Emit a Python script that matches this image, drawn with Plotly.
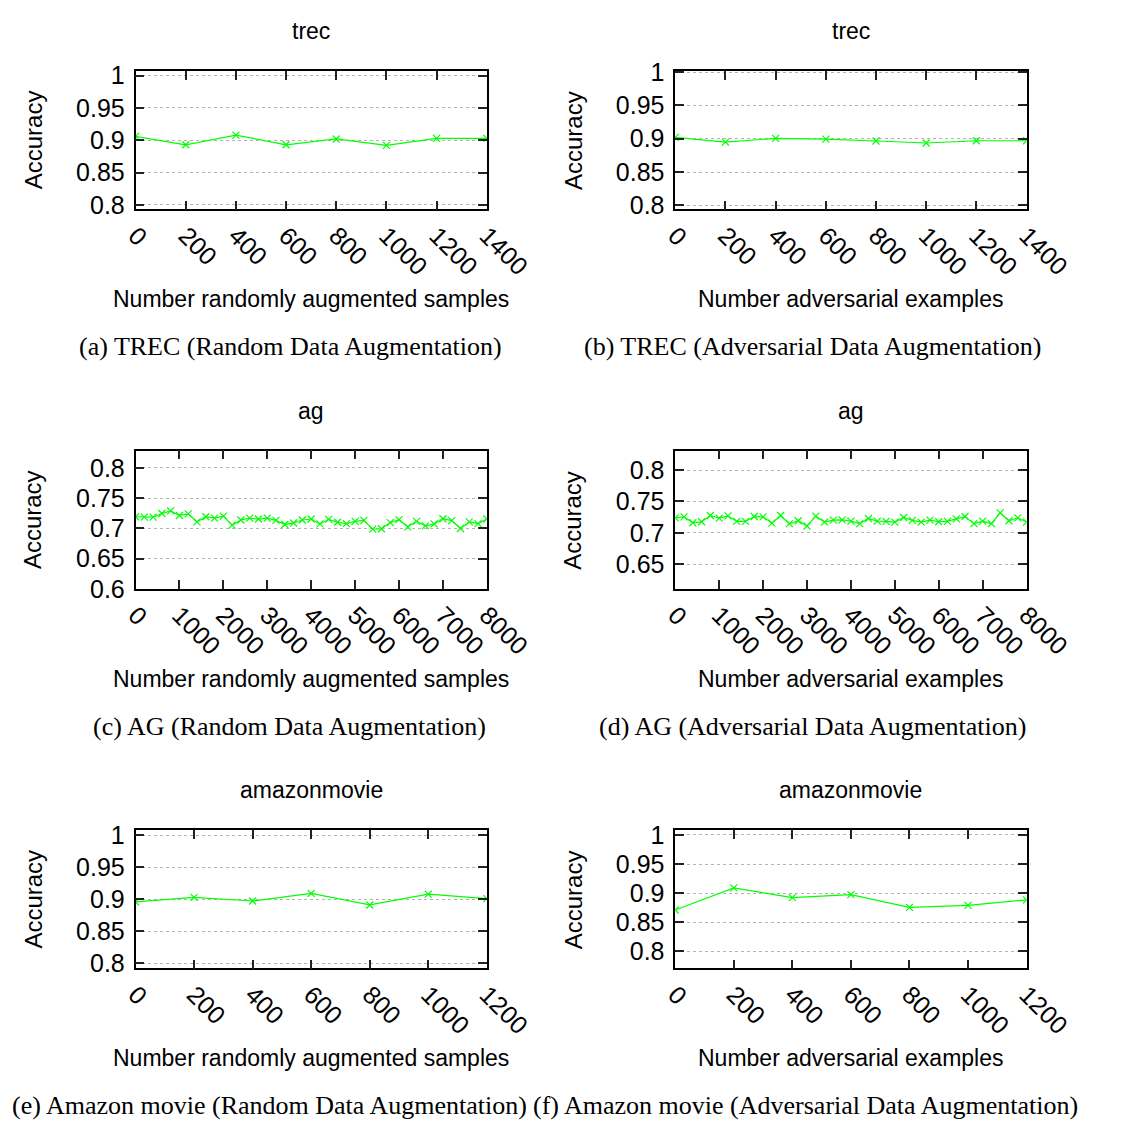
import plotly.graph_objects as go

# ---------------- data ----------------
trec_x = [0, 200, 400, 600, 800, 1000, 1200, 1400]
trec_random_acc = [0.906, 0.893, 0.908, 0.893, 0.902, 0.892, 0.903, 0.903]
trec_adv_acc = [0.902, 0.895, 0.9005, 0.8995, 0.8966, 0.8936, 0.897, 0.897]

ag_x = list(range(0, 8001, 200))
ag_random_acc = [0.7194, 0.7188, 0.7188, 0.7247, 0.7290, 0.7215, 0.7242, 0.7108, 0.7194, 0.7172,
                 0.7204, 0.7054, 0.7140, 0.7172, 0.7156, 0.7172, 0.7134, 0.7065, 0.7091, 0.7140,
                 0.7156, 0.7075, 0.7151, 0.7102, 0.7081, 0.7118, 0.7134, 0.6989, 0.6995, 0.7097,
                 0.7145, 0.7027, 0.7118, 0.7043, 0.7075, 0.7161, 0.7129, 0.7000, 0.7108, 0.7081,
                 0.7156]
ag_adv_acc = [0.7240, 0.7255, 0.7161, 0.7177, 0.7276, 0.7234, 0.7271, 0.7182, 0.7182, 0.7260,
              0.7255, 0.7156, 0.7276, 0.7146, 0.7193, 0.7109, 0.7266, 0.7172, 0.7203, 0.7208,
              0.7188, 0.7148, 0.7229, 0.7188, 0.7182, 0.7172, 0.7245, 0.7198, 0.7172, 0.7203,
              0.7177, 0.7182, 0.7224, 0.7260, 0.7146, 0.7188, 0.7146, 0.7318, 0.7193, 0.7240,
              0.7172]

amazon_x = [0, 200, 400, 600, 800, 1000, 1200]
amazon_random_acc = [0.8957, 0.9028, 0.8972, 0.909, 0.891, 0.908, 0.9008]
amazon_adv_acc = [0.8711, 0.9092, 0.8924, 0.8975, 0.8756, 0.879, 0.8885]

trec_xticks = [0, 200, 400, 600, 800, 1000, 1200, 1400]
ag_xticks = [0, 1000, 2000, 3000, 4000, 5000, 6000, 7000, 8000]
amazon_xticks = [0, 200, 400, 600, 800, 1000, 1200]
yticks_high = [0.8, 0.85, 0.9, 0.95, 1.0]
yticks_high_text = ["0.8", "0.85", "0.9", "0.95", "1"]
yticks_ag_random = [0.6, 0.65, 0.7, 0.75, 0.8]
yticks_ag_random_text = ["0.6", "0.65", "0.7", "0.75", "0.8"]
yticks_ag_adv = [0.65, 0.7, 0.75, 0.8]
yticks_ag_adv_text = ["0.65", "0.7", "0.75", "0.8"]

titles = ["trec", "trec", "ag", "ag", "amazonmovie", "amazonmovie"]
xlabels = ["Number randomly augmented samples", "Number adversarial examples"] * 3
captions = ["(a) TREC (Random Data Augmentation)", "(b) TREC (Adversarial Data Augmentation)",
            "(c) AG (Random Data Augmentation)", "(d) AG (Adversarial Data Augmentation)",
            "(e) Amazon movie (Random Data Augmentation)", "(f) Amazon movie (Adversarial Data Augmentation)"]

# ---------------- layout ----------------
# The page body has an 8px default margin; build the figure in window pixel
# coordinates and convert, so the figure fits exactly in the 1127x1137 window.
OFF = 8
W, H = 1127 - 2 * OFF, 1137 - 2 * OFF
SANS = "Liberation Sans, Arial, sans-serif"
SERIF = "Liberation Serif, Times New Roman, serif"


def fx(px):
    return (px - OFF) / W


def fy(py):
    return 1 - (py - OFF) / H


col_px = [(130, 501), (700, 1071)]
row_px = [(59, 201), (448.3, 590), (837.3, 978.7)]
cap_cx = [294, 845, 292.5, 845, 272, 838]

panels = [
    (trec_x, trec_random_acc, trec_xticks, [0, 1400], yticks_high, yticks_high_text, [0.793, 1.0076]),
    (trec_x, trec_adv_acc, trec_xticks, [0, 1400], yticks_high, yticks_high_text, [0.794, 1.002]),
    (ag_x, ag_random_acc, ag_xticks, [0, 8000], yticks_ag_random, yticks_ag_random_text, [0.6, 0.8285]),
    (ag_x, ag_adv_acc, ag_xticks, [0, 8000], yticks_ag_adv, yticks_ag_adv_text, [0.6105, 0.831]),
    (amazon_x, amazon_random_acc, amazon_xticks, [0, 1200], yticks_high, yticks_high_text, [0.792, 1.0076]),
    (amazon_x, amazon_adv_acc, amazon_xticks, [0, 1200], yticks_high, yticks_high_text, [0.771, 1.008]),
]

fig = go.Figure()
layout = dict(width=W, height=H, autosize=False, margin=dict(l=0, r=0, t=0, b=0, pad=0),
              paper_bgcolor="white", plot_bgcolor="white", showlegend=False)
annotations = []

line_color = "#00ff00"

for i, (xs, ys, xt, xr, yt, ytt, yr) in enumerate(panels):
    r, c = divmod(i, 2)
    n = i + 1
    x0, x1 = col_px[c]
    y0, y1 = row_px[r]
    xa = "xaxis" if n == 1 else f"xaxis{n}"
    ya = "yaxis" if n == 1 else f"yaxis{n}"
    xref = "x" if n == 1 else f"x{n}"
    yref = "y" if n == 1 else f"y{n}"
    fig.add_trace(go.Scatter(
        x=xs, y=ys, xaxis=xref, yaxis=yref, mode="lines+markers",
        line=dict(color=line_color, width=1.2),
        marker=dict(symbol="x-thin", size=7, line=dict(color=line_color, width=1.2)),
        hoverinfo="skip"))
    axis_common = dict(showline=True, linecolor="black", linewidth=1.5, mirror="ticks",
                       ticks="inside", ticklen=9, tickwidth=1.5, tickcolor="#222",
                       zeroline=False,
                       tickfont=dict(family=SANS, size=25, color="black"))
    layout[xa] = dict(domain=[fx(x0), fx(x1)], anchor=yref, range=xr,
                      tickvals=xt, ticktext=[str(v) for v in xt], tickangle=45,
                      showgrid=False, **axis_common)
    layout[ya] = dict(domain=[fy(y1), fy(y0)], anchor=xref, range=yr,
                      tickvals=yt, ticktext=ytt, showgrid=True, gridcolor="#b4b4b4",
                      griddash="dot", gridwidth=1, ticklabelstandoff=4, **axis_common)
    cx = (x0 + x1) / 2
    cy = (y0 + y1) / 2
    # title
    annotations.append(dict(text=titles[i], x=fx(cx), y=fy(y0 - 41), xref="paper", yref="paper",
                            showarrow=False, xanchor="center", yanchor="middle",
                            font=dict(family=SANS, size=23, color="black")))
    # y label
    annotations.append(dict(text="Accuracy", x=fx(x0 - 108), y=fy(cy), xref="paper", yref="paper",
                            showarrow=False, xanchor="center", yanchor="middle", textangle=-90,
                            font=dict(family=SANS, size=24, color="black")))
    # x label
    annotations.append(dict(text=xlabels[i], x=fx(cx), y=fy(y1 + 92), xref="paper", yref="paper",
                            showarrow=False, xanchor="center", yanchor="middle",
                            font=dict(family=SANS, size=23, color="black")))
    # caption
    annotations.append(dict(text=captions[i], x=fx(cap_cx[i]), y=fy(y1 + 141), xref="paper", yref="paper",
                            showarrow=False, xanchor="center", yanchor="middle",
                            font=dict(family=SERIF, size=26, color="black")))

layout["annotations"] = annotations
fig.update_layout(**layout)
fig.write_html("out.html")
